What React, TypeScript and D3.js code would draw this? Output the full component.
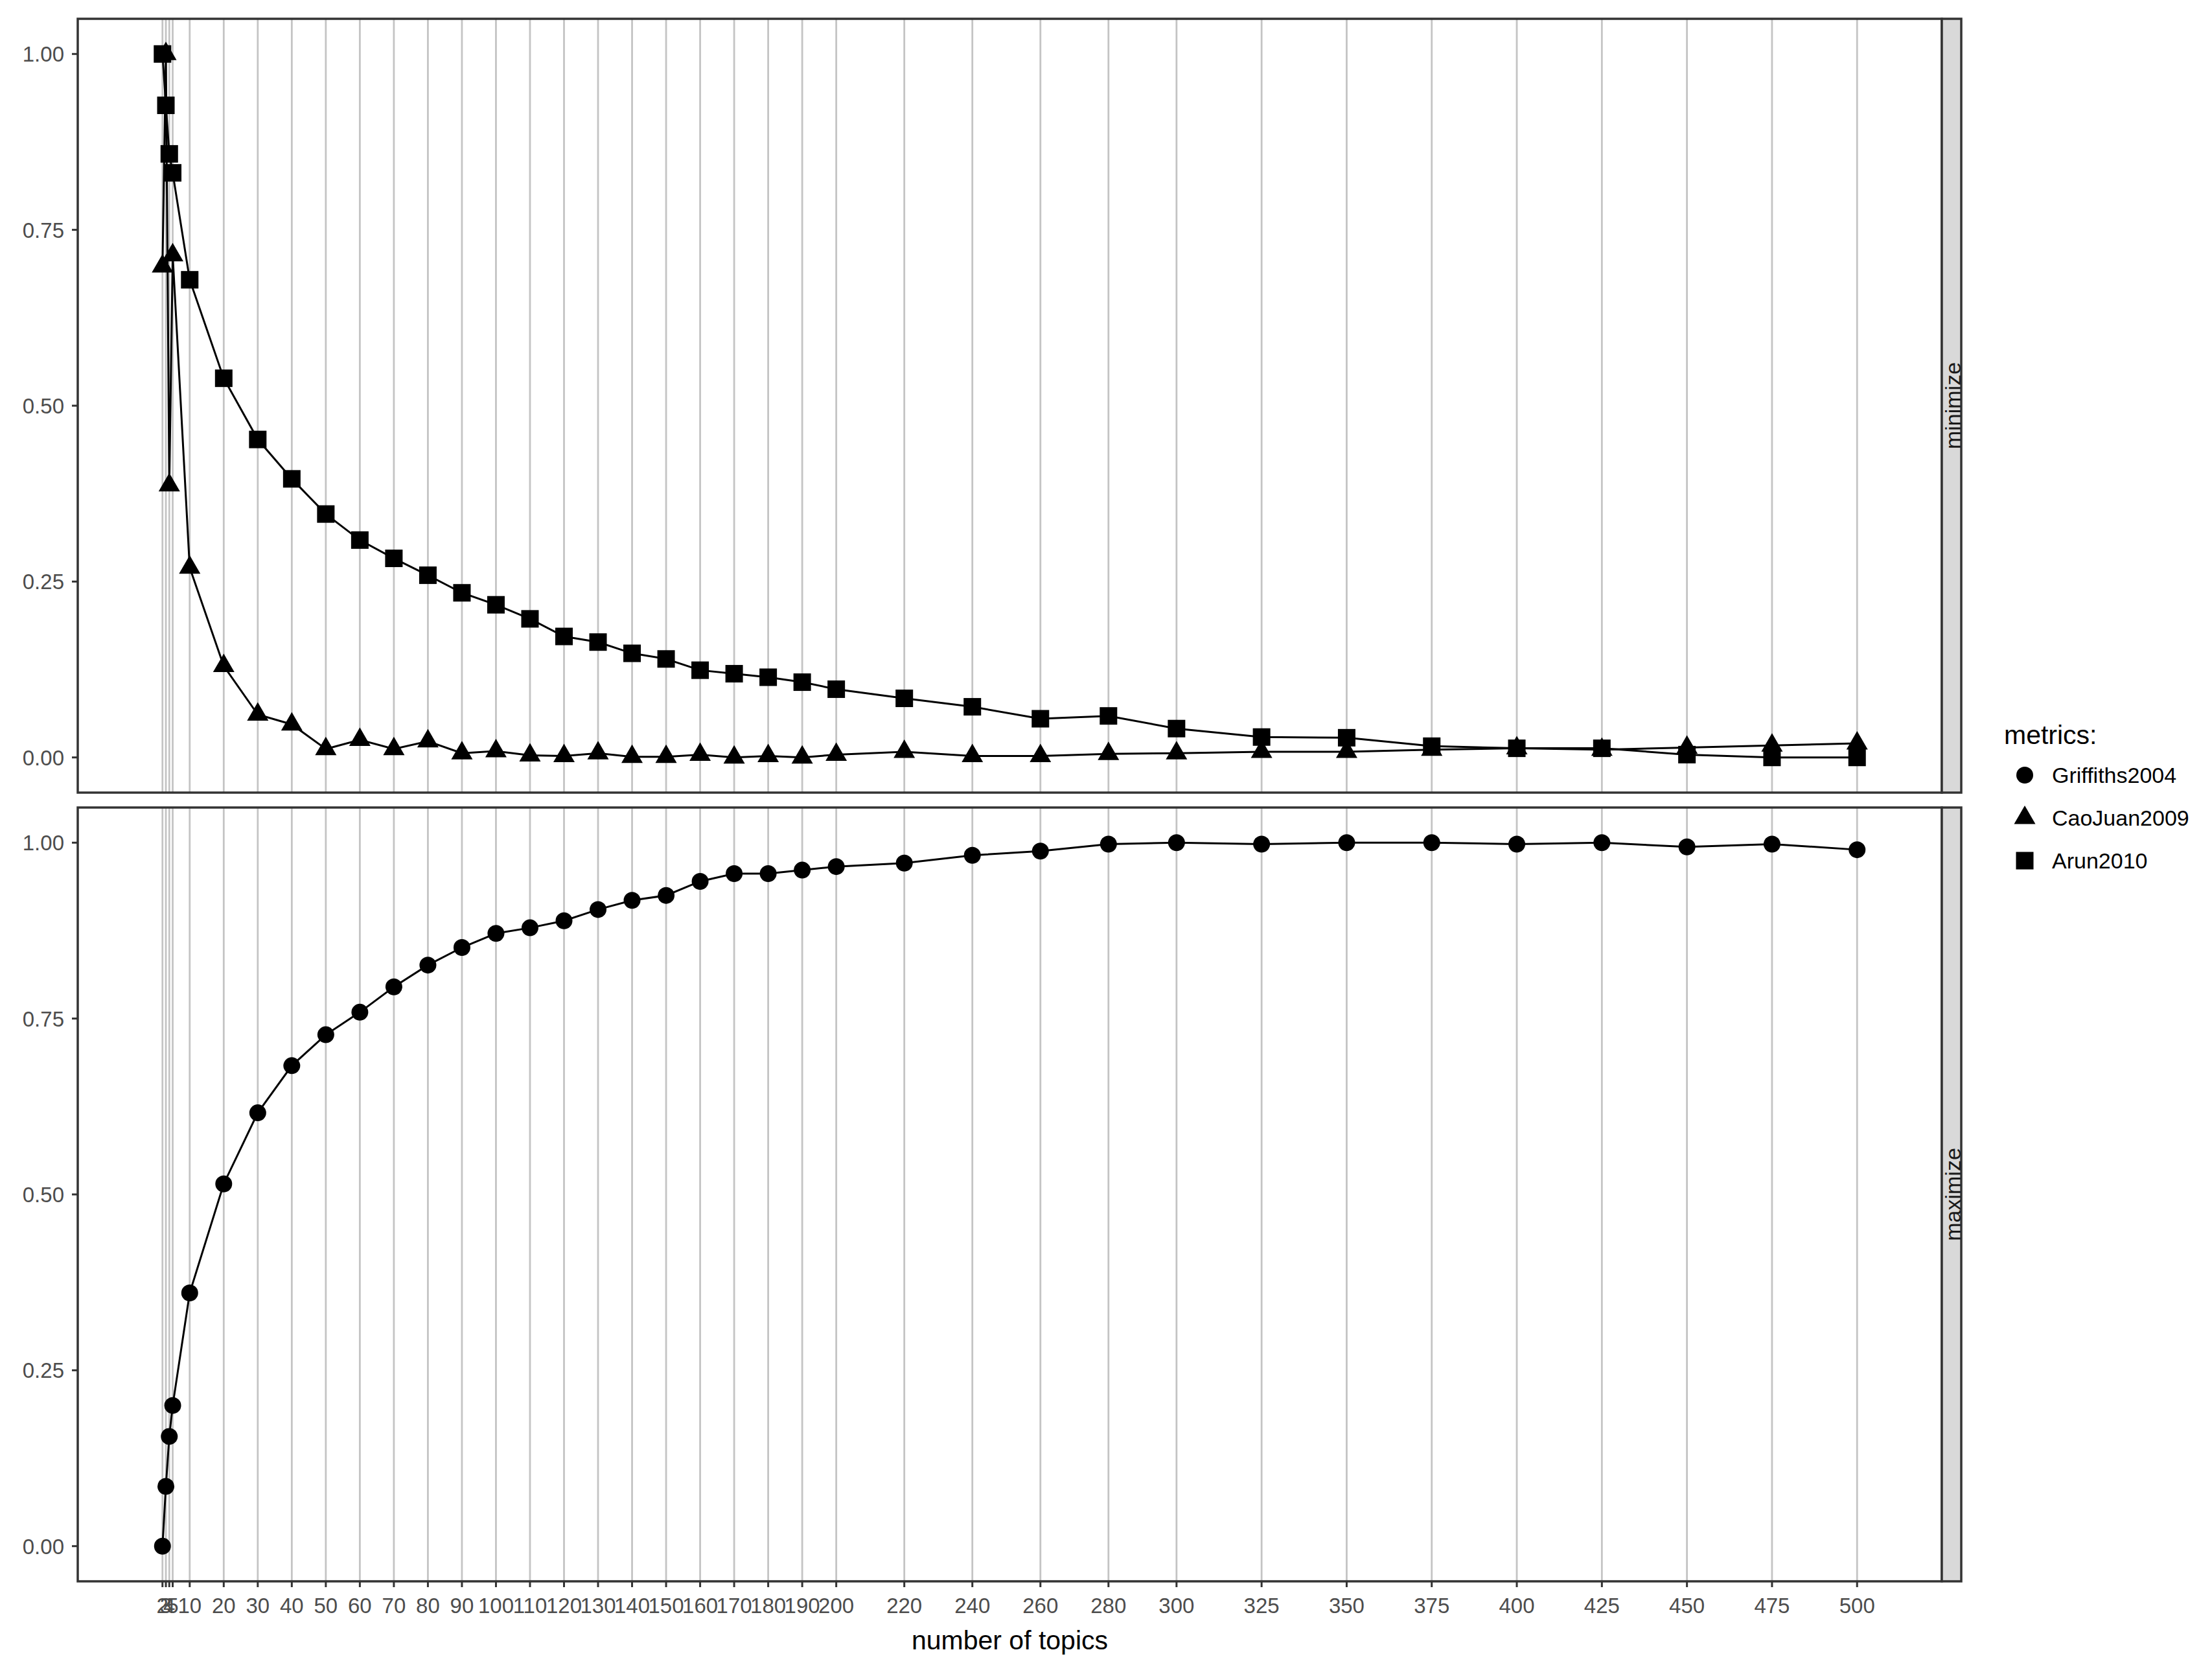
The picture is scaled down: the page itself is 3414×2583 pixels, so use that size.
import React from "react";
import * as d3 from "d3";

const topics = [2, 3, 4, 5, 10, 20, 30, 40, 50, 60, 70, 80, 90, 100, 110, 120, 130, 140, 150, 160, 170, 180, 190, 200, 220, 240, 260, 280, 300, 325, 350, 375, 400, 425, 450, 475, 500];

const arun2010 = [1.0, 0.927, 0.858, 0.831, 0.679, 0.539, 0.452, 0.396, 0.346, 0.309, 0.283, 0.259, 0.234, 0.217, 0.197, 0.172, 0.164, 0.148, 0.14, 0.124, 0.119, 0.114, 0.107, 0.097, 0.084, 0.072, 0.055, 0.059, 0.041, 0.029, 0.028, 0.016, 0.013, 0.013, 0.004, 0.0, 0.0];

const caoJuan2009 = [0.698, 1.0, 0.387, 0.714, 0.27, 0.13, 0.061, 0.047, 0.012, 0.025, 0.012, 0.023, 0.006, 0.009, 0.003, 0.002, 0.006, 0.001, 0.001, 0.004, 0.0, 0.002, 0.0, 0.004, 0.008, 0.002, 0.002, 0.005, 0.006, 0.008, 0.008, 0.011, 0.013, 0.011, 0.014, 0.017, 0.02];

const griffiths2004 = [0.0, 0.085, 0.156, 0.2, 0.36, 0.515, 0.616, 0.683, 0.727, 0.759, 0.795, 0.826, 0.851, 0.871, 0.879, 0.889, 0.905, 0.918, 0.925, 0.945, 0.956, 0.956, 0.961, 0.966, 0.971, 0.982, 0.988, 0.998, 1.0, 0.998, 1.0, 1.0, 0.998, 1.0, 0.994, 0.998, 0.99];

const yTicks = [0, 0.25, 0.5, 0.75, 1.0];
const metricNames = ["Griffiths2004", "CaoJuan2009", "Arun2010"];
const metricShapes = ["circle", "triangle", "square"];
const panelNames = ["minimize", "maximize"];

const W = 3414;
const H = 2583;
const FONT = "'Liberation Sans', Arial, Helvetica, sans-serif";
const left = 120;
const right = 2997;
const panels = [
  { top: 29, bottom: 1223, label: panelNames[0], series: [
    { name: metricNames[1], shape: metricShapes[1], values: caoJuan2009 },
    { name: metricNames[2], shape: metricShapes[2], values: arun2010 },
  ] },
  { top: 1246, bottom: 2440, label: panelNames[1], series: [
    { name: metricNames[0], shape: metricShapes[0], values: griffiths2004 },
  ] },
];

function Marker({ shape, x, y }: { shape: string; x: number; y: number }) {
  if (shape === "circle") return <circle cx={x} cy={y} r={13} fill="#000" />;
  if (shape === "square") return <rect x={x - 13.5} y={y - 13.5} width={27} height={27} fill="#000" />;
  const w = 33, h = 28.5;
  const d = `M${x},${y - (2 * h) / 3}L${x + w / 2},${y + h / 3}L${x - w / 2},${y + h / 3}Z`;
  return <path d={d} fill="#000" />;
}

export default function App() {
  const ext = d3.extent(topics) as [number, number];
  const pad = (ext[1] - ext[0]) * 0.05;
  const x = d3.scaleLinear().domain([ext[0] - pad, ext[1] + pad]).range([left, right]);

  return (
    <svg width={W} height={H} style={{ position: "absolute", left: 0, top: 0, background: "#fff" }} fontFamily={FONT}>
      <rect x={0} y={0} width={W} height={H} fill="#fff" />
      {panels.map((p, pi) => {
        const y = d3.scaleLinear().domain([-0.05, 1.05]).range([p.bottom, p.top]);
        const line = d3.line<number>().x((_, i) => x(topics[i])).y((v) => y(v));
        return (
          <g key={pi}>
            <rect x={left} y={p.top} width={right - left} height={p.bottom - p.top} fill="#fff" />
            {topics.map((t) => (
              <line key={t} x1={x(t)} x2={x(t)} y1={p.top} y2={p.bottom} stroke="#c4c4c4" strokeWidth={2.8} />
            ))}
            {p.series.map((s) => (
              <path key={s.name} d={line(s.values) || ""} fill="none" stroke="#000" strokeWidth={3} />
            ))}
            {p.series.map((s) =>
              s.values.map((v, i) => <Marker key={s.name + i} shape={s.shape} x={x(topics[i])} y={y(v)} />)
            )}
            <rect x={left} y={p.top} width={right - left} height={p.bottom - p.top} fill="none" stroke="#333" strokeWidth={3.5} />
            {yTicks.map((t) => (
              <g key={t}>
                <line x1={left - 9} x2={left} y1={y(t)} y2={y(t)} stroke="#333" strokeWidth={3} />
                <text x={99} y={y(t) + 12} textAnchor="end" fontSize={33} fill="#4d4d4d">{d3.format(".2f")(t)}</text>
              </g>
            ))}
            <rect x={right} y={p.top} width={30} height={p.bottom - p.top} fill="#d9d9d9" stroke="#333" strokeWidth={3.5} />
            <text transform={`translate(${right + 29},${(p.top + p.bottom) / 2}) rotate(-90)`} textAnchor="middle" fontSize={34} fill="#1a1a1a">{p.label}</text>
          </g>
        );
      })}
      {topics.map((t) => (
        <g key={"xt" + t}>
          <line x1={x(t)} x2={x(t)} y1={2440} y2={2449} stroke="#333" strokeWidth={3} />
          <text x={x(t)} y={2489} textAnchor="middle" fontSize={33} fill="#4d4d4d">{t}</text>
        </g>
      ))}
      <text x={(left + right) / 2} y={2545} textAnchor="middle" fontSize={41} fill="#000">number of topics</text>
      <text x={3093} y={1148} fontSize={41} fill="#000">metrics:</text>
      {metricNames.map((m, i) => {
        const cy = 1196 + i * 66;
        return (
          <g key={m}>
            <Marker shape={metricShapes[i]} x={3125} y={cy} />
            <text x={3167} y={cy + 12} fontSize={34} fill="#000">{m}</text>
          </g>
        );
      })}
    </svg>
  );
}
